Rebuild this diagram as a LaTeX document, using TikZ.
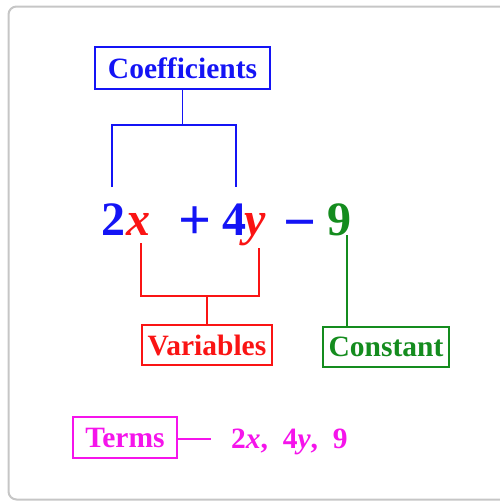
\documentclass[tikz,border=0pt]{standalone}
\usepackage{fontspec}
\setmainfont{Liberation Serif}
\usetikzlibrary{positioning}

\definecolor{coefblue}{RGB}{20,20,245}
\definecolor{varred}{RGB}{250,20,20}
\definecolor{constgreen}{RGB}{20,140,30}
\definecolor{termpink}{RGB}{245,20,235}

\begin{document}
\begin{tikzpicture}[
  x=1pt, y=-1pt,
  label box/.style={draw, line width=1.6pt, inner sep=0pt, align=center, font=\fontsize{29.5}{32}\selectfont\bfseries},
  eqn/.style={anchor=base west, inner sep=0pt, font=\fontsize{48}{52}\selectfont\bfseries},
  sign/.style={anchor=center, inner sep=0pt, font=\fontsize{58}{62}\selectfont\bfseries},
  link/.style={line width=1.4pt}
]
\useasboundingbox (0,0) rectangle (499,501);
% outer frame
\draw[gray!45, line width=2pt, rounded corners=8pt] (8.5,6.5) rectangle (530,499.5);

% the expression
\node[eqn, coefblue] (two) at (101,235) {2};
\node[eqn, varred] (xvar) at (126,235) {\textit{x}};
\node[sign, coefblue] (plus) at (195,223) {+};
\node[sign, coefblue] (minus) at (300,231) {−};
\node[eqn, coefblue] (four) at (222,235) {4};
\node[eqn, varred] (yvar) at (244,235) {\textit{y}};
\node[eqn, constgreen] (nine) at (327,235) {9};

% labels
\node[label box, coefblue, minimum width=175, minimum height=42] (coef) at (182.5,68) {Coefficients};
\node[label box, varred, minimum width=130, minimum height=40] (vars) at (207,345) {Variables};
\node[label box, constgreen, minimum width=126, minimum height=40] (const) at (386,347) {Constant};
\node[label box, termpink, minimum width=104, minimum height=41] (terms) at (125,437.5) {Terms};
\node[anchor=base west, inner sep=0pt, termpink, font=\fontsize{29.5}{32}\selectfont\bfseries] (termlist) at (231,448) {2\textit{x},\ \ 4\textit{y},\ \ 9};

% coefficient bracket
\coordinate (cl) at (112,125);
\coordinate (cr) at (236,125);
\coordinate (ctwo) at (112,187);
\coordinate (cfour) at (236,187);
\draw[link, coefblue] (ctwo) -- (cl) -- (cr) -- (cfour);
\draw[link, coefblue] (coef.south) -- (coef.south |- cl);

% variable bracket
\coordinate (vl) at (141,296);
\coordinate (vr) at (259,296);
\coordinate (vx) at (141,243);
\coordinate (vy) at (259,248);
\draw[link, varred] (vx) -- (vl) -- (vr) -- (vy);
\draw[link, varred] (vars.north) -- (vars.north |- vl);

% constant
\coordinate (cnine) at (347,235);
\draw[link, constgreen] (cnine) -- (cnine |- const.north);

% terms
\coordinate (tend) at (211,439);
\draw[link, termpink] (terms.east |- tend) -- (tend);
\end{tikzpicture}
\end{document}
